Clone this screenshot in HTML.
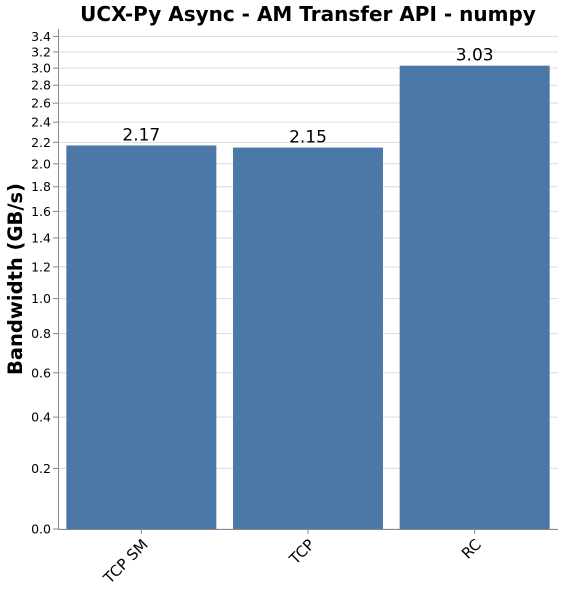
<!DOCTYPE html>
<html><head><meta charset="utf-8"><style>
body{margin:0;background:#fff}
text{font-family:"DejaVu Sans","Liberation Sans",sans-serif}
</style></head><body>
<svg id="c" width="563" height="599"></svg>
<script>
const categories=["TCP SM","TCP","RC"];
const values=[2.17,2.15,3.03];
const valueLabels=["2.17","2.15","3.03"];
const yTicks=[0,0.2,0.4,0.6,0.8,1.0,1.2,1.4,1.6,1.8,2.0,2.2,2.4,2.6,2.8,3.0,3.2,3.4];
const L=58,R=558,T=29,B=529,yMax=3.5;
const svg=document.getElementById('c');
const NS="http://www.w3.org/2000/svg";
function y(v){return B-(B-T)*Math.log1p(v)/Math.log1p(yMax);}
const bw=(R-L)/categories.length;
function x(i){return L+bw*i+bw*0.05;}
function el(t,a,txt){const e=document.createElementNS(NS,t);for(const k in a)e.setAttribute(k,a[k]);if(txt!=null)e.textContent=txt;svg.appendChild(e);return e;}
yTicks.forEach(v=>{
 const g=el('line',{x1:L,x2:R,y1:y(v),y2:y(v),stroke:'#ddd'});
 
 
 const t=el('line',{x1:L-5,x2:L,y1:y(v),y2:y(v),stroke:'#888'});
 
 
 const l=el('text',{x:L-7,y:y(v)+4.5,'text-anchor':'end','font-size':12.5,fill:'#000'},v.toFixed(1));
 
 
});
categories.forEach((c,i)=>{
 const r=el('rect',{x:x(i),y:y(values[i]),width:bw*0.9,height:B-y(values[i]),fill:'#4c78a8'});
 
 
 const vl=el('text',{x:x(i)+bw*0.45,y:y(values[i])-5,'text-anchor':'middle','font-size':17},valueLabels[i]);
 
 
 const cx=L+bw*(i+0.5);
 const tk=el('line',{x1:cx,x2:cx,y1:B,y2:B+5,stroke:'#888'});
 
 
 const xl=el('text',{x:cx,y:B+9,'text-anchor':'end','font-size':15,transform:`rotate(-45 ${cx} ${B+9})`,dy:'0.7em'},c);
 
 
});
const ya=el('line',{x1:L+0.5,x2:L+0.5,y1:T,y2:B,stroke:'#888'});


const xa=el('line',{x1:L,x2:R,y1:B+0.5,y2:B+0.5,stroke:'#888'});


const yt=el('text',{x:22,y:279,'text-anchor':'middle','font-size':19.5,'font-weight':'bold',transform:'rotate(-90 22 279)'},'Bandwidth (GB/s)');


const ti=el('text',{x:308,y:21,'text-anchor':'middle','font-size':20,'font-weight':'bold'},'UCX-Py Async - AM Transfer API - numpy');


</script>
</body></html>
